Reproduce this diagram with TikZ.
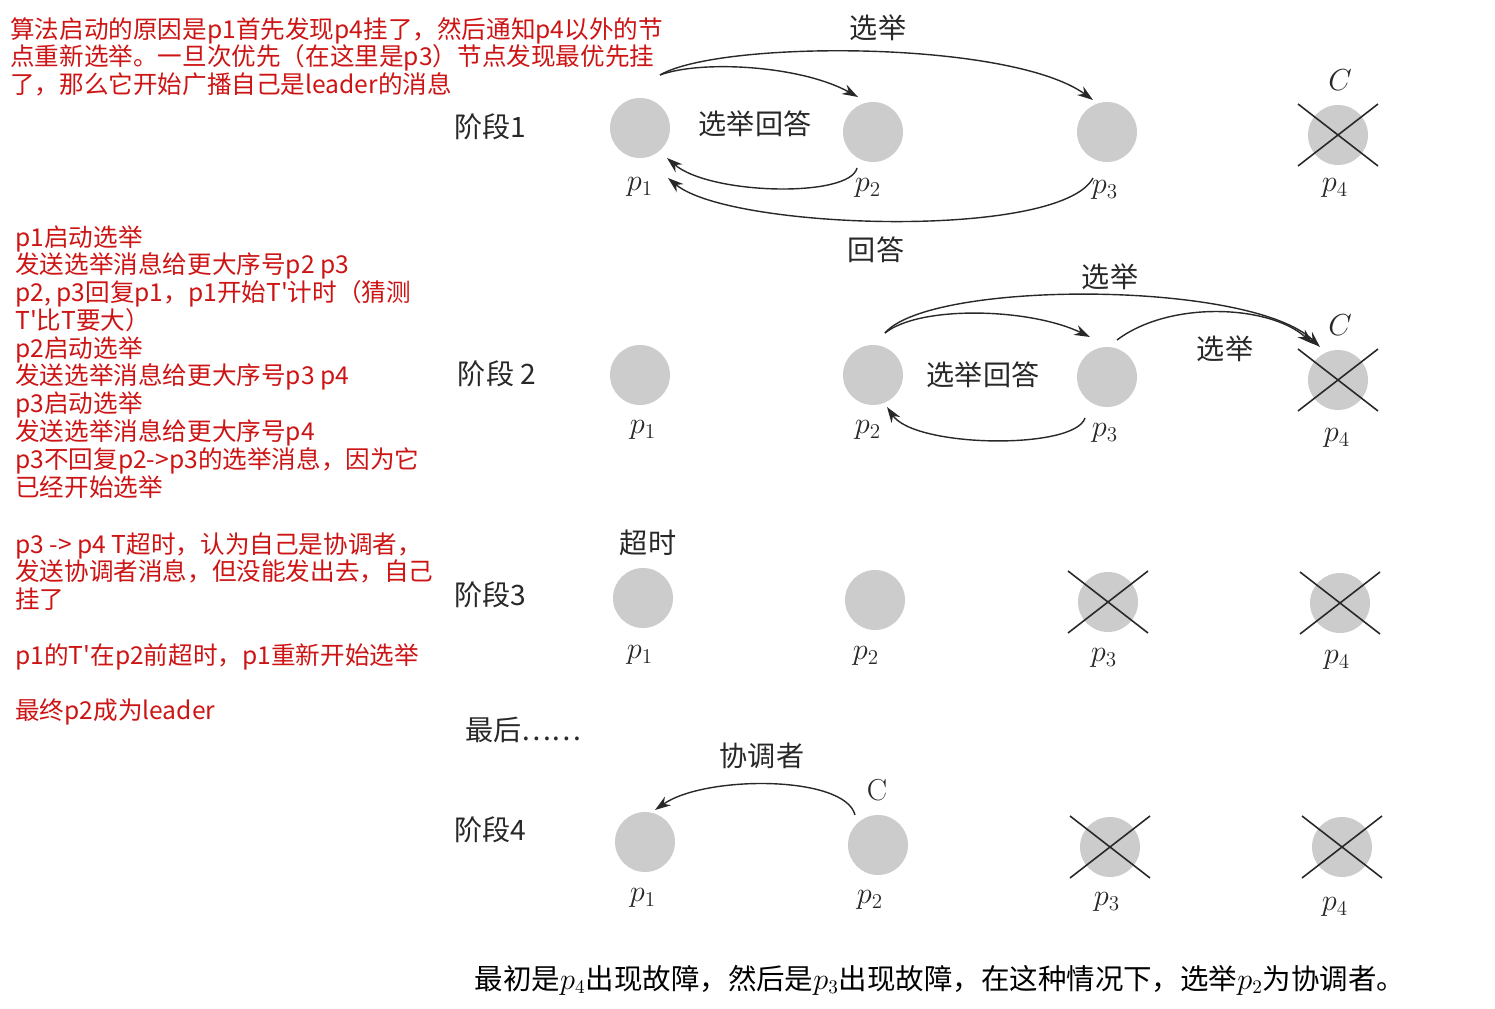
\documentclass[tikz,border=0pt]{standalone}
\usepackage{fontspec}
\newfontfamily\cjk{Noto Sans CJK SC}
\usetikzlibrary{arrows.meta}
\definecolor{notered}{RGB}{205,20,20}
\definecolor{ink}{RGB}{40,40,40}
\tikzset{
  proc/.style={circle, fill=black!20, minimum size=12mm, inner sep=0pt},
  note/.style={font=\cjk\fontsize{14}{15.8}\selectfont, text=notered, align=left, anchor=north west, inner sep=0pt},
  stage/.style={font=\cjk\fontsize{16}{18}\selectfont, text=ink},
  plab/.style={font=\fontsize{17.28}{19}\selectfont, text=ink},
  msg/.style={ink, line width=0.8pt, ->, >={Stealth[length=9pt,width=6pt]}},
  dead/.style={ink, line width=0.9pt},
}
\begin{document}
\begin{tikzpicture}[x=0.2mm,y=-0.2mm]
        \useasboundingbox (0,0) rectangle (1495,1009);

        % Notes
        \node[note] (n1) at (10,17) {算法启动的原因是p1首先发现p4挂了，然后通知p4以外的节\\点重新选举。一旦次优先（在这里是p3）节点发现最优先挂\\了，那么它开始广播自己是leader的消息};
        \node[note] (n2) at (15,225) {p1启动选举\\发送选举消息给更大序号p2 p3\\p2, p3回复p1，p1开始T'计时（猜测\\T'比T要大）\\p2启动选举\\发送选举消息给更大序号p3 p4\\p3启动选举\\发送选举消息给更大序号p4\\p3不回复p2->p3的选举消息，因为它\\已经开始选举};
        \node[note] (n3) at (15,532) {p3 -> p4 T超时，认为自己是协调者，\\发送协调者消息，但没能发出去，自己\\挂了};
        \node[note] (n4) at (15,643) {p1的T'在p2前超时，p1重新开始选举};
        \node[note] (n5) at (15,698) {最终p2成为leader};

        % Stage 1
        \node[stage] (s1) at (490,127) {阶段1};
        \node[proc] (a1) at (640,128) {};
        \node[proc] (a2) at (873,132) {};
        \node[proc] (a3) at (1107,132) {};
        \node[proc] (a4) at (1338,135) {};
        \node[plab] (a1l) at (640,187) {$p_1$};
        \node[plab] (a2l) at (868,188) {$p_2$};
        \node[plab] (a3l) at (1105,190) {$p_3$};
        \node[plab] (a4l) at (1335,188) {$p_4$};
        \node[plab] (a4c) at (1340,80) {$C$};
        \node[stage] (e1) at (878,28) {选举};
        \node[stage] (r1) at (755,124) {选举回答};
        \node[stage] (q1) at (876,250) {回答};
        \draw[msg] ([shift={(20,-53)}]a1.center) .. controls (700,60) and (800,65) .. ([shift={(-15,-35)}]a2.center);
        \draw[msg] ([shift={(20,-53)}]a1.center) .. controls (720,40) and (1010,40) .. ([shift={(-14,-32)}]a3.center);
        \draw[msg] ([shift={(-16,36)}]a2.center) .. controls (850,198) and (710,195) .. ([shift={(27,30)}]a1.center);
        \draw[msg] ([shift={(-14,46)}]a3.center) .. controls (1060,240) and (730,230) .. ([shift={(28,50)}]a1.center);

        % Stage 2
        \node[stage] (s2) at (497,374) {阶段 2};
        \node[proc] (b1) at (640,375) {};
        \node[proc] (b2) at (873,375) {};
        \node[proc] (b3) at (1107,377) {};
        \node[proc] (b4) at (1338,380) {};
        \node[plab] (b1l) at (643,430) {$p_1$};
        \node[plab] (b2l) at (868,430) {$p_2$};
        \node[plab] (b3l) at (1105,433) {$p_3$};
        \node[plab] (b4l) at (1337,438) {$p_4$};
        \node[plab] (b4c) at (1340,325) {$C$};
        \node[stage] (e2) at (1110,277) {选举};
        \node[stage] (e3) at (1225,349) {选举};
        \node[stage] (r2) at (983,375) {选举回答};
        \draw[msg] ([shift={(12,-42)}]b2.center) .. controls (920,305) and (1030,308) .. ([shift={(-17,-40)}]b3.center);
        \draw[msg] ([shift={(12,-42)}]b2.center) .. controls (930,280) and (1250,280) .. ([shift={(-18,-33)}]b4.center);
        \draw[msg] ([shift={(10,-37)}]b3.center) .. controls (1170,300) and (1270,305) .. ([shift={(-25,-36)}]b4.center);
        \draw[msg] ([shift={(-22,41)}]b3.center) .. controls (1075,450) and (915,448) .. ([shift={(14,32)}]b2.center);

        % Stage 3
        \node[stage] (s3) at (490,595) {阶段3};
        \node[stage] (t3) at (648,543) {超时};
        \node[proc] (c1) at (643,598) {};
        \node[proc] (c2) at (875,600) {};
        \node[proc] (c3) at (1108,602) {};
        \node[proc] (c4) at (1340,603) {};
        \node[plab] (c1l) at (640,655) {$p_1$};
        \node[plab] (c2l) at (866,656) {$p_2$};
        \node[plab] (c3l) at (1104,658) {$p_3$};
        \node[plab] (c4l) at (1337,660) {$p_4$};

        % Stage 4
        \node[stage] (f4) at (523,730) {最后……};
        \node[stage] (s4) at (490,830) {阶段4};
        \node[stage] (k4) at (762,756) {协调者};
        \node[proc] (d1) at (645,842) {};
        \node[proc] (d2) at (878,845) {};
        \node[proc] (d3) at (1110,847) {};
        \node[proc] (d4) at (1342,847) {};
        \node[plab] (d1l) at (643,898) {$p_1$};
        \node[plab] (d2l) at (870,900) {$p_2$};
        \node[plab] (d3l) at (1107,902) {$p_3$};
        \node[plab] (d4l) at (1335,907) {$p_4$};
        \node[plab] (d2c) at (877,790) {C};
        \draw[msg] ([shift={(-23,-30)}]d2.center) .. controls (845,775) and (705,775) .. ([shift={(10,-32)}]d1.center);

        % Crashed processes
        \foreach \n in {a4,b4,c3,c4,d3,d4}
          \draw[dead] ([shift={(-40,-31)}]\n.center) -- ([shift={(40,31)}]\n.center)
                      ([shift={(-40,31)}]\n.center) -- ([shift={(40,-31)}]\n.center);

        % Caption
        \node[font=\cjk\fontsize{16.2}{19}\selectfont, text=black] (cap) at (940,980) {最初是$p_4$出现故障，然后是$p_3$出现故障，在这种情况下，选举$p_2$为协调者。};
    \end{tikzpicture}
\end{document}
